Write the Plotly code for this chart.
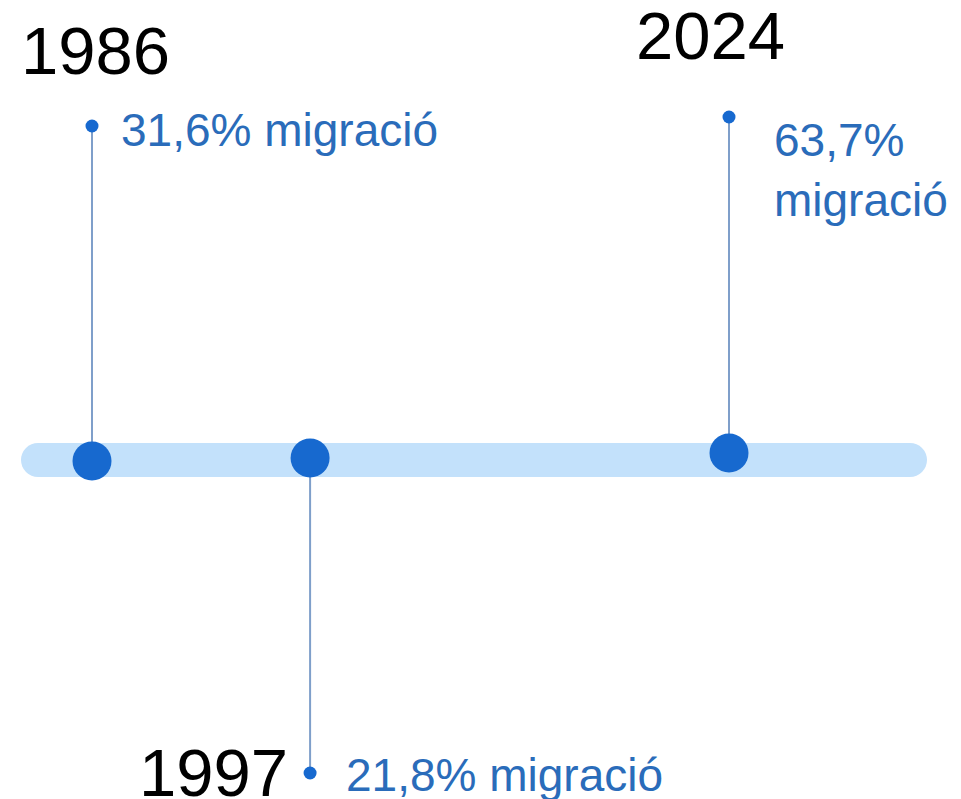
import math
import plotly.graph_objects as go

# ---------------- data ----------------
years = [1986, 1997, 2024]
year_labels = ["1986", "1997", "2024"]
migration_pct = [31.6, 21.8, 63.7]
value_word = "migració"

# ---------------- layout / style ----------------
W, H = 961, 799
BASE_YEAR = 1925            # log-scaled "years since" axis compresses the timeline
X_FIRST_PX, X_LAST_PX = 92, 729
BAR_Y = 460
BAR_X0, BAR_X1, BAR_HALF = 21, 927, 17
stem_tip_y = [126, 773, 117]
dot_y = [461, 458, 453]
line_break = [False, False, True]
# label offsets (px) relative to stem
year_dx = [-73, -20, -95]
year_anchor = ["left", "right", "left"]
year_y = [50, 772, 35]
value_dx = [27, 34, 43]
value_y = [130, 775, 170]

DOT = "#1769cf"
STEM = "#7f9fca"
BAR = "#c3e1fb"
TXT_BLUE = "#2a6cba"
FONT = "Liberation Sans, Arial, Helvetica, sans-serif"

xv = [y - BASE_YEAR for y in years]
lo, hi = math.log10(xv[0]), math.log10(xv[-1])
scale = (X_LAST_PX - X_FIRST_PX) / (hi - lo)
x_range = [lo - X_FIRST_PX / scale, lo + (W - X_FIRST_PX) / scale]

fig = go.Figure()

# stems
for x, ty in zip(xv, stem_tip_y):
    fig.add_trace(go.Scatter(x=[x, x], y=[BAR_Y, ty], mode="lines",
                             line=dict(color=STEM, width=2),
                             hoverinfo="skip", showlegend=False))
# tip dots
fig.add_trace(go.Scatter(x=xv, y=stem_tip_y, mode="markers",
                         marker=dict(size=13, color=DOT),
                         hoverinfo="skip", showlegend=False))
# big dots
fig.add_trace(go.Scatter(x=xv, y=dot_y, mode="markers",
                         marker=dict(size=39, color=DOT),
                         customdata=migration_pct,
                         hovertemplate="%{customdata}%<extra></extra>",
                         showlegend=False))

# timeline bar (rounded)
shapes = [
    dict(type="rect", xref="paper", yref="y",
         x0=(BAR_X0 + BAR_HALF) / W, x1=(BAR_X1 - BAR_HALF) / W,
         y0=BAR_Y - BAR_HALF, y1=BAR_Y + BAR_HALF,
         fillcolor=BAR, line=dict(width=0), layer="below"),
    dict(type="circle", xref="paper", yref="y",
         x0=BAR_X0 / W, x1=(BAR_X0 + 2 * BAR_HALF) / W,
         y0=BAR_Y - BAR_HALF, y1=BAR_Y + BAR_HALF,
         fillcolor=BAR, line=dict(width=0), layer="below"),
    dict(type="circle", xref="paper", yref="y",
         x0=(BAR_X1 - 2 * BAR_HALF) / W, x1=BAR_X1 / W,
         y0=BAR_Y - BAR_HALF, y1=BAR_Y + BAR_HALF,
         fillcolor=BAR, line=dict(width=0), layer="below"),
]

annotations = []
for i, x in enumerate(xv):
    lx = math.log10(x)
    annotations.append(dict(
        x=lx, y=year_y[i], xref="x", yref="y", text=year_labels[i],
        showarrow=False, xanchor=year_anchor[i], yanchor="middle",
        xshift=year_dx[i], font=dict(family=FONT, size=67, color="#000000")))
    val = f"{migration_pct[i]:.1f}".replace(".", ",") + "%"
    sep = "<br>" if line_break[i] else " "
    annotations.append(dict(
        x=lx, y=value_y[i], xref="x", yref="y", text=val + sep + value_word,
        showarrow=False, xanchor="left", yanchor="middle", align="left",
        xshift=value_dx[i], font=dict(family=FONT, size=46, color=TXT_BLUE)))

fig.update_layout(
    width=W, height=H,
    margin=dict(l=0, r=0, t=0, b=0),
    paper_bgcolor="white", plot_bgcolor="white",
    xaxis=dict(type="log", range=x_range, visible=False, fixedrange=True),
    yaxis=dict(range=[H, 0], visible=False, fixedrange=True),
    shapes=shapes, annotations=annotations,
    showlegend=False,
)

fig.write_html("out.html", config={"displayModeBar": False},
               post_script="document.body.style.margin='0';")
